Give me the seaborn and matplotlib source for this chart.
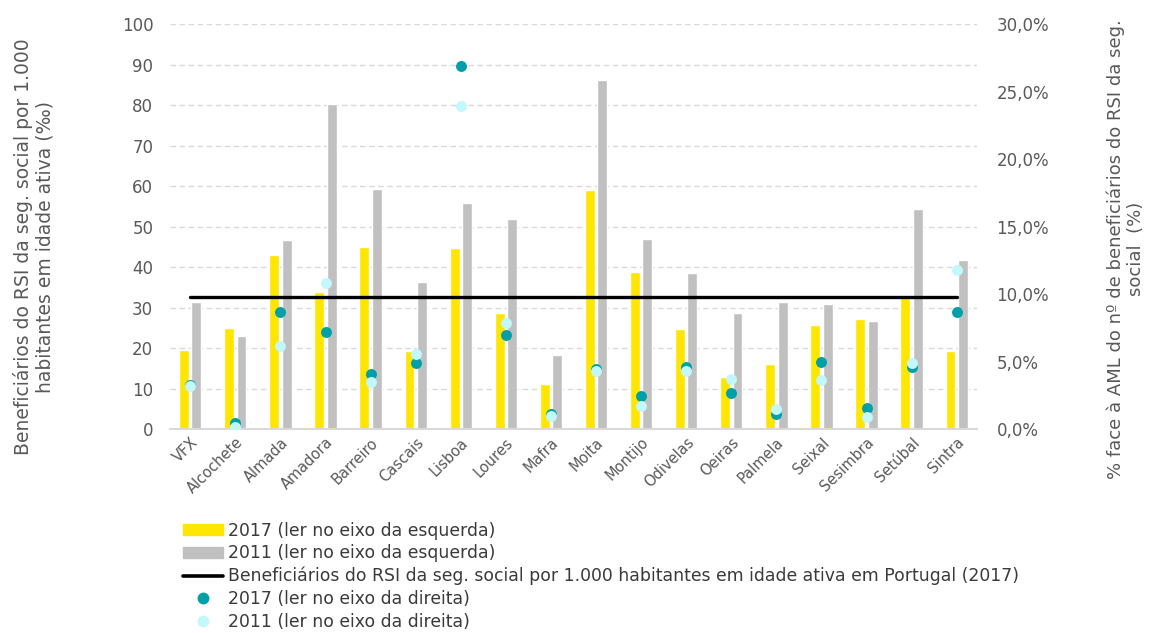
import numpy as np
import pandas as pd
import matplotlib.pyplot as plt
import seaborn as sns
from matplotlib.patches import Patch
from matplotlib.lines import Line2D

# Data
# --------------
concelhos = ["VFX", "Alcochete", "Almada", "Amadora", "Barreiro", "Cascais", "Lisboa",
             "Loures", "Mafra", "Moita", "Montijo", "Odivelas", "Oeiras", "Palmela",
             "Seixal", "Sesimbra", "Setúbal", "Sintra"]
por_mil_2017 = [19.6, 25.0, 43.0, 33.9, 45.1, 19.4, 44.8, 28.6, 11.3, 59.1, 38.8, 24.8,
                13.0, 16.1, 25.8, 27.3, 33.2, 19.2]
por_mil_2011 = [31.4, 23.0, 46.7, 80.2, 59.3, 36.4, 55.8, 51.9, 18.4, 86.1, 46.9, 38.5,
                28.8, 31.4, 30.9, 26.7, 54.3, 41.8]
pct_aml_2017 = [3.3, 0.5, 8.7, 7.2, 4.1, 4.9, 26.9, 7.0, 1.1, 4.5, 2.5, 4.6, 2.7, 1.1,
                5.0, 1.6, 4.6, 8.7]
pct_aml_2011 = [3.2, 0.2, 6.2, 10.8, 3.5, 5.6, 23.9, 7.9, 1.0, 4.3, 1.75, 4.3, 3.7, 1.5,
                3.65, 0.9, 4.9, 11.8]
portugal_2017 = 32.6

anos = ["2017", "2011"]
cores_barras = {"2017": "#FFE600", "2011": "#C0C0C0"}
cor_teal = "#00A0A8"
cor_clara = "#C2F7FB"
cinza_texto = "#595959"

barras = pd.DataFrame({
    "concelho": concelhos * 2,
    "ano": ["2017"] * len(concelhos) + ["2011"] * len(concelhos),
    "valor": por_mil_2017 + por_mil_2011,
})
posicoes = np.arange(len(concelhos))

# Set-up
# --------------
sns.set_theme(style="white")
plt.rcParams["font.family"] = "sans-serif"
plt.rcParams["font.sans-serif"] = ["DejaVu Sans"]
fonte = "DejaVu Sans"

figure = plt.figure(figsize=(11.57, 6.33), dpi=100)
ax = figure.add_axes([0.1469, 0.3218, 0.6975, 0.6402])

# Plotting
# --------------
sns.barplot(data=barras, x="concelho", y="valor", hue="ano", hue_order=anos,
            order=concelhos, palette=cores_barras, width=0.55, gap=0.2,
            saturation=1, legend=False, ax=ax)

sns.lineplot(x=posicoes, y=np.full(len(concelhos), portugal_2017), color="black",
             linewidth=2.4, ax=ax)

ax.set_xlim(-0.45, len(concelhos) - 0.55)
ax.set_ylim(0, 100)
ax.set_yticks(range(0, 101, 10))
ax.yaxis.grid(True, linestyle=(0, (4, 2.5)), color="#D9D9D9", linewidth=1)
ax.set_axisbelow(True)
for lado in ["left", "right", "top"]:
    ax.spines[lado].set_visible(False)
ax.spines["bottom"].set_color("#D9D9D9")
ax.spines["bottom"].set_linewidth(1.5)
ax.tick_params(axis="y", length=0, colors=cinza_texto, labelsize=12, pad=12)
ax.tick_params(axis="x", length=0, colors=cinza_texto, labelsize=10.5, pad=4)
for t in ax.get_xticklabels() + ax.get_yticklabels():
    t.set_fontfamily(fonte)
plt.setp(ax.get_xticklabels(), rotation=45, ha="right", rotation_mode="anchor")
ax.set_xlabel("")
ax.set_ylabel("Beneficiários do RSI da seg. social por 1.000\nhabitantes em idade ativa (‰)",
              fontsize=13.5, color=cinza_texto, fontfamily=fonte)
ax.yaxis.set_label_coords(-0.143, 0.45)

ax2 = ax.twinx()
sns.scatterplot(x=posicoes, y=pct_aml_2017, color=cor_teal, s=62, linewidth=0, ax=ax2)
sns.scatterplot(x=posicoes, y=pct_aml_2011, color=cor_clara, s=62, linewidth=0, ax=ax2)
ax2.set_ylim(0, 30)
ax2.set_yticks(range(0, 31, 5))
ax2.set_yticklabels([f"{v:.1f}%".replace(".", ",") for v in range(0, 31, 5)],
                    fontfamily=fonte)
ax2.tick_params(axis="y", length=0, colors=cinza_texto, labelsize=12, pad=14)
for lado in ["left", "right", "top", "bottom"]:
    ax2.spines[lado].set_visible(False)
ax2.set_ylabel("% face à AML do nº de beneficiários do RSI da seg.\nsocial  (%)",
               fontsize=13, color=cinza_texto, fontfamily=fonte)
ax2.yaxis.set_label_coords(1.16, 0.445)

# Legend
# --------------
handles = [
    Patch(color=cores_barras["2017"]),
    Patch(color=cores_barras["2011"]),
    Line2D([], [], color="black", linewidth=2.6),
    Line2D([], [], color=cor_teal, marker="o", linestyle="", markersize=7.5),
    Line2D([], [], color=cor_clara, marker="o", linestyle="", markersize=7.5),
]
labels = [
    "2017 (ler no eixo da esquerda)",
    "2011 (ler no eixo da esquerda)",
    "Beneficiários do RSI da seg. social por 1.000 habitantes em idade ativa em Portugal (2017)",
    "2017 (ler no eixo da direita)",
    "2011 (ler no eixo da direita)",
]
leg = figure.legend(handles, labels, loc="upper left", bbox_to_anchor=(0.158, 0.176),
                    frameon=False, labelspacing=0.27, handlelength=2.34,
                    handletextpad=0.3, handleheight=0.6, borderpad=0, borderaxespad=0,
                    prop={"family": fonte, "size": 12.4})
for t in leg.get_texts():
    t.set_color("#3A3A3A")

# Rendering
# --------------
figure.savefig("out.png", dpi=100)
